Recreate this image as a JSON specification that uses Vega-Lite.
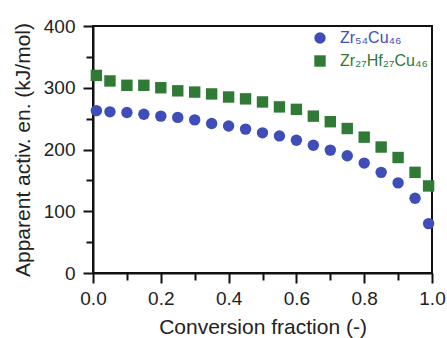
{
  "$schema": "https://vega.github.io/schema/vega-lite/v6.json",
  "width": 339,
  "height": 247,
  "autosize": "none",
  "padding": {"left": 93, "top": 26, "right": 15, "bottom": 65},
  "background": "white",
  "config": {
    "font": "Liberation Sans",
    "view": {"stroke": "#111", "strokeWidth": 2},
    "axis": {
      "domainColor": "#111", "domainWidth": 2, "tickColor": "#111", "tickWidth": 2,
      "labelColor": "#222", "labelFontSize": 19, "titleFontSize": 21, "titleFontWeight": "normal",
      "titleColor": "#222", "grid": false, "labelFlush": false
    }
  },
  "data": {"values": [
    {"x":0.01,"y":263,"s":"Zr₅₄Cu₄₆"},{"x":0.05,"y":261,"s":"Zr₅₄Cu₄₆"},{"x":0.10,"y":260,"s":"Zr₅₄Cu₄₆"},
    {"x":0.15,"y":257,"s":"Zr₅₄Cu₄₆"},{"x":0.20,"y":254,"s":"Zr₅₄Cu₄₆"},{"x":0.25,"y":252,"s":"Zr₅₄Cu₄₆"},
    {"x":0.30,"y":248,"s":"Zr₅₄Cu₄₆"},{"x":0.35,"y":242,"s":"Zr₅₄Cu₄₆"},{"x":0.40,"y":238,"s":"Zr₅₄Cu₄₆"},
    {"x":0.45,"y":233,"s":"Zr₅₄Cu₄₆"},{"x":0.50,"y":227,"s":"Zr₅₄Cu₄₆"},{"x":0.55,"y":222,"s":"Zr₅₄Cu₄₆"},
    {"x":0.60,"y":215,"s":"Zr₅₄Cu₄₆"},{"x":0.65,"y":207,"s":"Zr₅₄Cu₄₆"},{"x":0.70,"y":199,"s":"Zr₅₄Cu₄₆"},
    {"x":0.75,"y":190,"s":"Zr₅₄Cu₄₆"},{"x":0.80,"y":178,"s":"Zr₅₄Cu₄₆"},{"x":0.85,"y":163,"s":"Zr₅₄Cu₄₆"},
    {"x":0.90,"y":146,"s":"Zr₅₄Cu₄₆"},{"x":0.95,"y":121,"s":"Zr₅₄Cu₄₆"},{"x":0.99,"y":80,"s":"Zr₅₄Cu₄₆"},
    {"x":0.01,"y":320,"s":"Zr₂₇Hf₂₇Cu₄₆"},{"x":0.05,"y":311,"s":"Zr₂₇Hf₂₇Cu₄₆"},{"x":0.10,"y":304,"s":"Zr₂₇Hf₂₇Cu₄₆"},
    {"x":0.15,"y":304,"s":"Zr₂₇Hf₂₇Cu₄₆"},{"x":0.20,"y":300,"s":"Zr₂₇Hf₂₇Cu₄₆"},{"x":0.25,"y":295,"s":"Zr₂₇Hf₂₇Cu₄₆"},
    {"x":0.30,"y":293,"s":"Zr₂₇Hf₂₇Cu₄₆"},{"x":0.35,"y":290,"s":"Zr₂₇Hf₂₇Cu₄₆"},{"x":0.40,"y":285,"s":"Zr₂₇Hf₂₇Cu₄₆"},
    {"x":0.45,"y":282,"s":"Zr₂₇Hf₂₇Cu₄₆"},{"x":0.50,"y":277,"s":"Zr₂₇Hf₂₇Cu₄₆"},{"x":0.55,"y":269,"s":"Zr₂₇Hf₂₇Cu₄₆"},
    {"x":0.60,"y":265,"s":"Zr₂₇Hf₂₇Cu₄₆"},{"x":0.65,"y":254,"s":"Zr₂₇Hf₂₇Cu₄₆"},{"x":0.70,"y":245,"s":"Zr₂₇Hf₂₇Cu₄₆"},
    {"x":0.75,"y":234,"s":"Zr₂₇Hf₂₇Cu₄₆"},{"x":0.80,"y":220,"s":"Zr₂₇Hf₂₇Cu₄₆"},{"x":0.85,"y":204,"s":"Zr₂₇Hf₂₇Cu₄₆"},
    {"x":0.90,"y":187,"s":"Zr₂₇Hf₂₇Cu₄₆"},{"x":0.95,"y":163,"s":"Zr₂₇Hf₂₇Cu₄₆"},{"x":0.99,"y":141,"s":"Zr₂₇Hf₂₇Cu₄₆"}
  ]},
  "mark": {"type": "point", "filled": true, "opacity": 1, "size": 130, "clip": false},
  "encoding": {
    "x": {"field": "x", "type": "quantitative", "scale": {"domain": [0, 1], "nice": false},
      "title": "Conversion fraction (-)",
      "axis": {"values": [0,0.1,0.2,0.3,0.4,0.5,0.6,0.7,0.8,0.9,1.0],
        "labelExpr": "round(datum.value*10) % 2 == 0 ? format(datum.value, '.1f') : ''",
        "tickSize": {"condition": {"test": "round(datum.value*10) % 2 == 0", "value": 10}, "value": 7},
        "labelPadding": 6, "titlePadding": 8}},
    "y": {"field": "y", "type": "quantitative", "scale": {"domain": [0, 400], "nice": false},
      "title": "Apparent activ. en. (kJ/mol)",
      "axis": {"values": [0,50,100,150,200,250,300,350,400],
        "labelExpr": "datum.value % 100 == 0 ? datum.label : ''",
        "tickSize": {"condition": {"test": "datum.value % 100 == 0", "value": 10}, "value": 7},
        "labelPadding": 8, "titlePadding": 10}},
    "color": {"field": "s", "type": "nominal",
      "scale": {"domain": ["Zr₅₄Cu₄₆", "Zr₂₇Hf₂₇Cu₄₆"], "range": ["#3F4DB8", "#2F7A34"]},
      "legend": {"title": null, "orient": "top-right", "offset": 4, "labelFontSize": 16,
        "labelColor": {"expr": "datum.value == 'Zr₅₄Cu₄₆' ? '#3F4DB8' : '#2F7A34'"},
        "symbolSize": 130, "rowPadding": 7, "labelOffset": 12}},
    "shape": {"field": "s", "type": "nominal",
      "scale": {"domain": ["Zr₅₄Cu₄₆", "Zr₂₇Hf₂₇Cu₄₆"], "range": ["circle", "square"]},
      "legend": null}
  }
}
